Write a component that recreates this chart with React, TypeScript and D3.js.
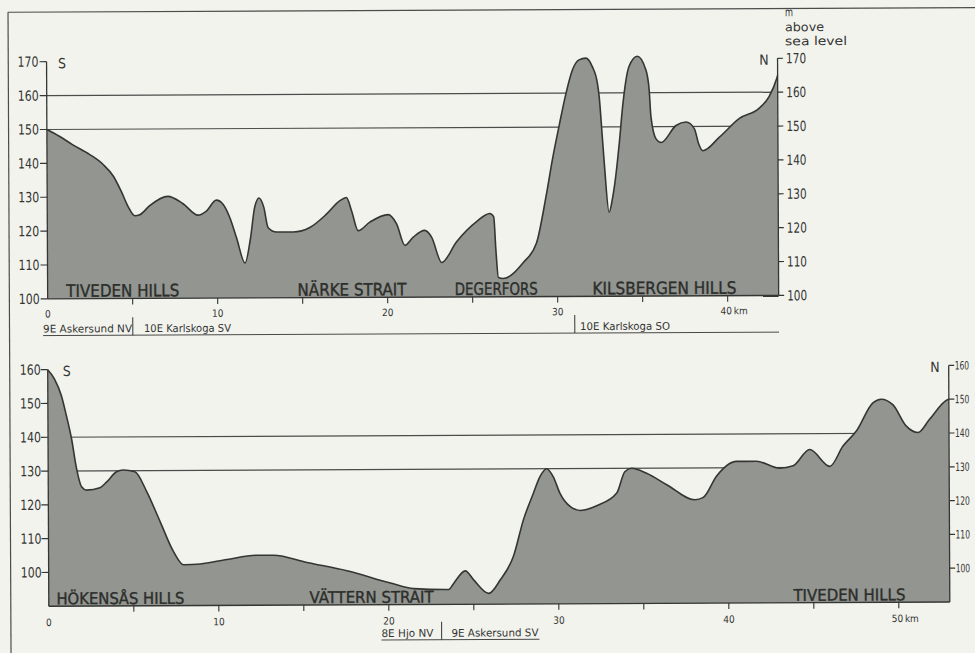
import React from "react";
import * as d3 from "d3";

// ---- Upper profile: Tiveden – Närke Strait – Degerfors – Kilsbergen (km, m a.s.l.)
const upperKm = [
  0, 0.73, 1.5, 2.5, 3.3, 3.9, 4.36, 4.75, 5.15, 5.44, 6.03, 7.1, 7.99, 8.87, 9.36, 9.95,
  10.34, 10.74, 11.13, 11.62, 11.95, 12.2, 12.46, 12.74, 12.99, 13.48, 14.46, 15.44, 16.42,
  17.2, 17.6, 17.9, 18.28, 18.97, 20.05, 20.54, 21.03, 21.52, 22.2, 22.6, 23.19, 24.07,
  25.25, 26.03, 26.26, 26.38, 26.52, 26.81, 27.99, 28.77, 29.36, 29.75, 30.15, 30.54,
  30.93, 31.32, 31.72, 32.1, 32.4, 32.5, 32.66, 32.8, 33.05, 33.25, 33.38, 33.68, 33.87,
  34.26, 34.75, 35.25, 35.44, 35.54, 35.84, 36.13, 37.01, 37.6, 38.09, 38.34, 38.58, 39.56,
  40.74, 41.91, 42.5, 42.93, 43,
];
const upperElev = [
  150, 148, 145.5, 142.6, 139.6, 136.1, 131.6, 127.2, 124.4, 124.7, 127.4, 130.1, 127.9,
  124.5, 125.7, 128.9, 127.7, 123.7, 117.7, 110.3, 117.7, 126.7, 129.5, 126.7, 120.7, 119.4,
  119.4, 120.7, 124.6, 128.5, 129.5, 125.6, 119.7, 122.2, 124.4, 121.7, 115.3, 117.7, 119.7,
  117.7, 110.2, 116.3, 122.2, 124.6, 123.6, 113.8, 105.7, 105.4, 110.1, 115.8, 130, 141,
  150.8, 159.8, 166.8, 169.8, 170.3, 167.8, 162.8, 158.8, 147.8, 137.8, 124.8, 128.8, 132.8,
  145.8, 155.8, 167.8, 170.8, 166.8, 160.8, 152.8, 146.3, 145.3, 150.3, 151.3, 149.3, 144.8,
  142.8, 146.8, 152.3, 155.3, 158.8, 163.8, 165,
];
const upperYTicks = [100, 110, 120, 130, 140, 150, 160, 170];
const upperXTicks = [5, 10, 15, 20, 25, 30, 35, 40];
const upperXLabels = [0, 10, 20, 30, 40];
const upperRefLines = [150, 160];
const upperRegions = ["TIVEDEN HILLS", "NÄRKE STRAIT", "DEGERFORS", "KILSBERGEN HILLS"];
const upperSheets = ["9E Askersund NV", "10E Karlskoga SV", "10E Karlskoga SO"];
const upperSheetBreaks = [5, 31];

// ---- Lower profile: Hökensås – Vättern Strait – Tiveden (km, m a.s.l.)
const lowerKm = [
  0, 0.39, 0.79, 1.08, 1.38, 1.67, 1.96, 2.26, 3.04, 3.44, 4.02, 4.41, 5.1, 5.79, 6.57,
  7.35, 7.94, 8.92, 10.49, 12.26, 13.24, 15.2, 17.55, 20.1, 21.47, 23.53, 23.82, 24.51, 25,
  25.88, 26.57, 27.35, 27.94, 28.53, 28.92, 29.32, 29.71, 30.1, 30.69, 31.28, 32.26, 33.44,
  33.92, 34.32, 35.2, 36.38, 38.04, 38.53, 39.32, 40.49, 41.67, 43.04, 43.82, 44.8, 45.98,
  46.76, 47.55, 48.53, 49.02, 49.7, 50.49, 51.18, 51.86, 52.94, 53,
];
const lowerElev = [
  160, 157.3, 152.4, 146.5, 139.6, 130.7, 125.3, 124.3, 125, 126.7, 129.7, 130.2, 129.7,
  123.8, 114.9, 106, 102.1, 102.3, 103.6, 104.8, 104.8, 102.6, 100.1, 96.4, 94.7, 94.4, 96.2,
  99.9, 97.2, 93.2, 97.2, 104.2, 114.9, 122.7, 127.6, 130, 127.6, 122.7, 118.8, 117.6, 119,
  122.7, 129, 130, 128.5, 125.1, 120.6, 121.3, 127.6, 131.9, 131.9, 129.8, 130.5, 135.3,
  130.3, 136.3, 140.7, 149, 150.1, 148.5, 142.1, 140.2, 144.1, 149.9, 150,
];
const lowerYTicks = [100, 110, 120, 130, 140, 150, 160];
const lowerXTicks = [5, 10, 15, 20, 25, 30, 35, 40, 45, 50];
const lowerXLabels = [0, 10, 20, 30, 40, 50];
const lowerRefLines = [130, 140];
const lowerRegions = ["HÖKENSÅS HILLS", "VÄTTERN STRAIT", "TIVEDEN HILLS"];
const lowerSheets = ["8E Hjo NV", "9E Askersund SV"];
const lowerSheetBreaks = [23.1];

const W = 975;
const H = 653;
const PAPER = "#f3f3ee";
const FILL = "#939590";
const INK = "#343633";
const RULE = "#4a4d4a";
const FONT = "'DejaVu Sans Condensed', 'DejaVu Sans', sans-serif";

type Region = { text: string; km: number; width: number };
type Sheet = { text: string; x: number; width: number };

type PanelProps = {
  km: number[];
  elev: number[];
  endKm: number;
  xRange: [number, number];
  yDomain: [number, number];
  yRange: [number, number];
  yTicks: number[];
  xTicks: number[];
  xLabels: number[];
  refLines: number[];
  regions: Region[];
  regionSize: number;
  sheets: Sheet[];
  sheetBreaks: number[];
  sheetRule: [number, number];
  sheetBaseline: number;
  xLabelBaseline: number;
  leftLabelGap: number;
  rightLabelGap: number;
  rightLabelWidth: number;
  rightLabelSize: number;
  southDx: number;
  showUnits: boolean;
};

function Panel(p: PanelProps) {
  const x = d3.scaleLinear().domain([0, p.endKm]).range(p.xRange);
  const y = d3.scaleLinear().domain(p.yDomain).range(p.yRange);
  const pts = p.km.map((k, i) => ({ k, m: p.elev[i] }));
  const base = y(p.yDomain[0]);
  const top = y(p.yTicks[p.yTicks.length - 1]);
  const x0 = x(0);
  const x1 = x(p.endKm);

  const area = d3
    .area<{ k: number; m: number }>()
    .x((d) => x(d.k))
    .y0(base)
    .y1((d) => y(d.m))
    .curve(d3.curveMonotoneX);
  const line = d3
    .line<{ k: number; m: number }>()
    .x((d) => x(d.k))
    .y((d) => y(d.m))
    .curve(d3.curveMonotoneX);

  const lastLabel = p.xLabels[p.xLabels.length - 1];

  return (
    <g>
      {p.refLines.map((v) => (
        <line key={v} x1={x0} x2={x1} y1={y(v)} y2={y(v)} stroke={RULE} strokeWidth={1.2} />
      ))}
      <path d={area(pts) || ""} fill={FILL} />
      <path d={line(pts) || ""} fill="none" stroke={INK} strokeWidth={1.6} strokeLinejoin="round" />

      {/* axes */}
      <line x1={x0} x2={x0} y1={top} y2={base} stroke={INK} strokeWidth={1.3} />
      <line x1={x1} x2={x1} y1={top} y2={base} stroke={INK} strokeWidth={1.3} />
      <line x1={x0} x2={x1} y1={base} y2={base} stroke={INK} strokeWidth={1.4} />
      {p.yTicks.map((t) => (
        <g key={t}>
          <line x1={x0 - 7} x2={x0} y1={y(t)} y2={y(t)} stroke={INK} strokeWidth={1.2} />
          <line x1={x1} x2={x1 + 5.5} y1={y(t)} y2={y(t)} stroke={INK} strokeWidth={1.2} />
          <text
            x={x0 - p.leftLabelGap}
            y={y(t) + 5}
            textAnchor="end"
            fontSize={14}
            textLength={21}
            lengthAdjust="spacingAndGlyphs"
            fill={INK}
          >
            {t}
          </text>
          <text
            x={x1 + p.rightLabelGap}
            y={y(t) + p.rightLabelSize * 0.36}
            fontSize={p.rightLabelSize}
            textLength={p.rightLabelWidth}
            lengthAdjust="spacingAndGlyphs"
            fill={INK}
          >
            {t}
          </text>
        </g>
      ))}
      {p.xTicks.map((t) => (
        <line key={t} x1={x(t)} x2={x(t)} y1={base} y2={base + 6} stroke={INK} strokeWidth={1.1} />
      ))}
      {p.xLabels.map((t) => (
        <g key={t}>
          <text
            x={x(t) - (t === lastLabel ? 1.5 : 0)}
            y={p.xLabelBaseline}
            textAnchor="middle"
            fontSize={10}
            fill={INK}
          >
            {t}
          </text>
          {t === lastLabel && (
            <text x={x(t) + 6} y={p.xLabelBaseline} fontSize={10} fill={INK}>
              km
            </text>
          )}
        </g>
      ))}

      {/* direction letters */}
      <text x={x0 + p.southDx} y={top + 6.5} fontSize={14} fill={INK}>
        S
      </text>
      <text x={x1 - 9} y={top + 6.5} fontSize={14} textAnchor="end" fill={INK}>
        N
      </text>
      {p.showUnits && (
        <g fill={INK} fontSize={12}>
          <text x={x1 + 7.6} y={top - 42} textLength={8} lengthAdjust="spacingAndGlyphs">
            m
          </text>
          <text x={x1 + 7.6} y={top - 27} textLength={39} lengthAdjust="spacingAndGlyphs">
            above
          </text>
          <text x={x1 + 7.6} y={top - 13} textLength={62} lengthAdjust="spacingAndGlyphs">
            sea level
          </text>
        </g>
      )}

      {/* landscape names */}
      {p.regions.map((r) => (
        <text
          key={r.text}
          x={x(r.km)}
          y={base - 2}
          fontSize={p.regionSize}
          textLength={r.width}
          lengthAdjust="spacingAndGlyphs"
          fill="#2c2e2b"
          stroke="#2c2e2b"
          strokeWidth={0.35}
        >
          {r.text}
        </text>
      ))}

      {/* map sheets */}
      {p.sheets.map((s) => (
        <text
          key={s.text}
          x={s.x}
          y={p.sheetBaseline}
          fontSize={10.5}
          textLength={s.width}
          lengthAdjust="spacingAndGlyphs"
          fill={INK}
        >
          {s.text}
        </text>
      ))}
      {p.sheetBreaks.map((b) => (
        <line
          key={b}
          x1={x(b)}
          x2={x(b)}
          y1={p.sheetBaseline - 15}
          y2={p.sheetBaseline + 3}
          stroke={INK}
          strokeWidth={1}
        />
      ))}
      <line
        x1={p.sheetRule[0]}
        x2={p.sheetRule[1]}
        y1={p.sheetBaseline + 3}
        y2={p.sheetBaseline + 3}
        stroke={INK}
        strokeWidth={0.9}
      />
    </g>
  );
}

export default function App() {
  const upperRegionLayout: Region[] = upperRegions.map((text, i) => ({
    text,
    km: [1.1, 14.7, 23.95, 32.05][i],
    width: [113, 109, 83, 144][i],
  }));
  const lowerRegionLayout: Region[] = lowerRegions.map((text, i) => ({
    text,
    km: [0.45, 15.34, 43.8][i],
    width: [128, 124, 112][i],
  }));
  const upperSheetLayout: Sheet[] = upperSheets.map((text, i) => ({
    text,
    x: [43, 144, 580][i],
    width: [89, 87, 90][i],
  }));
  const lowerSheetLayout: Sheet[] = lowerSheets.map((text, i) => ({
    text,
    x: [380, 450][i],
    width: [52, 87][i],
  }));

  return (
    <svg
      width={W}
      height={H}
      viewBox={`0 0 ${W} ${H}`}
      style={{ position: "absolute", left: 0, top: 0, fontFamily: FONT, fontStretch: "condensed" }}
    >
      <rect width={W} height={H} fill={PAPER} />
      <g transform="rotate(-0.27 487 326)">
        <line x1={9.3} x2={990} y1={10} y2={10} stroke={RULE} strokeWidth={1.2} />
        <line x1={9.5} x2={9.5} y1={10} y2={680} stroke={RULE} strokeWidth={1.2} />
        <Panel
          km={upperKm}
          elev={upperElev}
          endKm={43}
          xRange={[47.8, 778.8]}
          yDomain={[100, 170]}
          yRange={[296.8, 59.65]}
          yTicks={upperYTicks}
          xTicks={upperXTicks}
          xLabels={upperXLabels}
          refLines={upperRefLines}
          regions={upperRegionLayout}
          regionSize={17}
          sheets={upperSheetLayout}
          sheetBreaks={upperSheetBreaks}
          sheetRule={[43, 779]}
          sheetBaseline={330.5}
          xLabelBaseline={315.5}
          leftLabelGap={8}
          rightLabelGap={8.5}
          rightLabelWidth={20}
          rightLabelSize={14}
          southDx={11.5}
          showUnits={true}
        />
        <Panel
          km={lowerKm}
          elev={lowerElev}
          endKm={53}
          xRange={[47.5, 948.5]}
          yDomain={[90, 160]}
          yRange={[604.2, 367.6]}
          yTicks={lowerYTicks}
          xTicks={lowerXTicks}
          xLabels={lowerXLabels}
          refLines={lowerRefLines}
          regions={lowerRegionLayout}
          regionSize={16}
          sheets={lowerSheetLayout}
          sheetBreaks={lowerSheetBreaks}
          sheetRule={[380, 538]}
          sheetBaseline={636.5}
          xLabelBaseline={624}
          leftLabelGap={7}
          rightLabelGap={6}
          rightLabelWidth={14.5}
          rightLabelSize={11.5}
          southDx={15}
          showUnits={false}
        />
      </g>
    </svg>
  );
}
